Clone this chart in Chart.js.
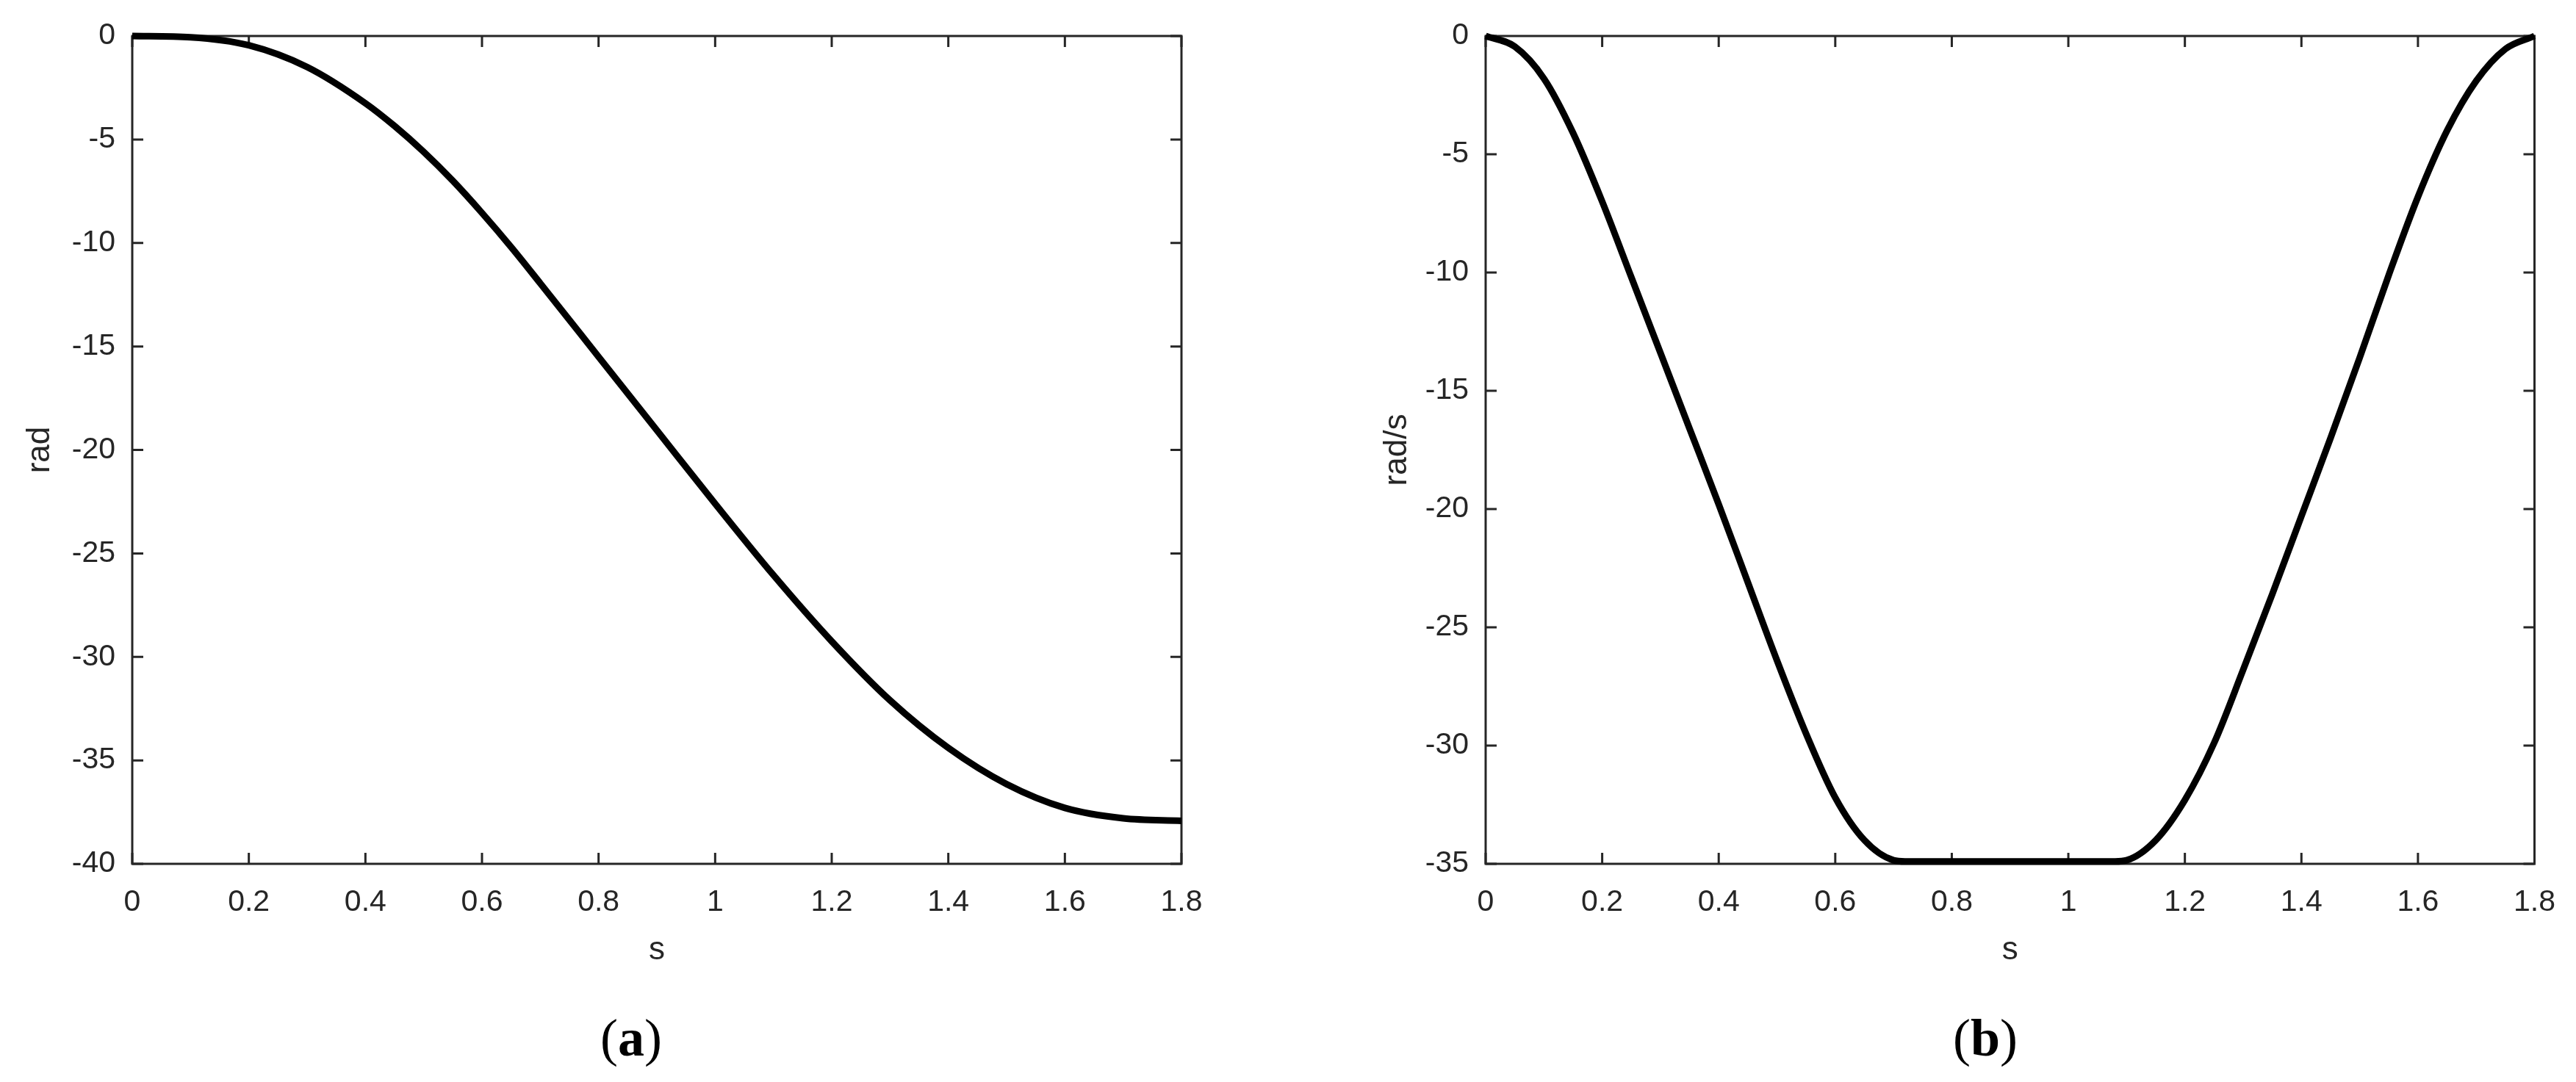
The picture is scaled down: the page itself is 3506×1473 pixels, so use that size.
<!DOCTYPE html>
<html>
<head>
<meta charset="utf-8">
<script src="https://cdn.jsdelivr.net/npm/chart.js@4.4.0/dist/chart.umd.min.js"></script>
<style>
  body{margin:0;background:#fff;}
  #wrap{position:relative;width:3506px;height:1473px;overflow:hidden;background:#fff;}
  canvas{position:absolute;top:0;}
  .cap{position:absolute;width:400px;text-align:center;font-family:"Liberation Serif","Times New Roman",serif;font-size:72px;line-height:72px;color:#000;}
</style>
</head>
<body>
<div id="wrap">
  <canvas id="pos" width="1753" height="1473" style="left:0"></canvas>
  <canvas id="vel" width="1753" height="1473" style="left:1753px"></canvas>
  <div class="cap" style="left:659px;top:1377px">(<b>a</b>)</div>
  <div class="cap" style="left:2502px;top:1377px">(<b>b</b>)</div>
</div>
<script>
// (a) angle, rad
var posTime = [0, 0.1, 0.2, 0.3, 0.4, 0.45, 0.5, 0.55, 0.6, 0.65, 0.7, 0.8, 0.9, 1.0, 1.1, 1.2, 1.3, 1.4, 1.5, 1.6, 1.7, 1.8];
var posValue = [0, -0.06, -0.45, -1.5, -3.25, -4.35, -5.6, -7.0, -8.55, -10.2, -11.95, -15.5, -19.05, -22.6, -26.05, -29.25, -32.1, -34.4, -36.15, -37.3, -37.8, -37.92];

// (b) angular velocity, rad/s
var velTime = [0, 0.05, 0.1, 0.15, 0.2, 0.25, 0.3, 0.35, 0.4, 0.45, 0.5, 0.55, 0.6, 0.65, 0.7, 0.72, 1.08, 1.1, 1.15, 1.2, 1.25, 1.3, 1.35, 1.4, 1.45, 1.5, 1.55, 1.6, 1.65, 1.7, 1.75, 1.8];
var velValue = [0, -0.45, -1.8, -4.1, -7.0, -10.2, -13.4, -16.6, -19.8, -23.1, -26.4, -29.5, -32.2, -34.0, -34.85, -34.9, -34.9, -34.85, -34.0, -32.3, -29.9, -26.8, -23.6, -20.3, -17.0, -13.6, -10.1, -6.8, -4.0, -1.9, -0.55, 0];

var timeRange = [0, 1.8];
var posRange = [-40, 0];
var velRange = [-35, 0];

var AXIS = '#262626';
var FONT = '"Liberation Sans", Arial, Helvetica, sans-serif';

// matlab style box with ticks pointing inward
var boxTicks = {
    id: 'boxTicks',
    beforeDatasetsDraw: function(chart){
        var ctx = chart.ctx;
        var a = chart.chartArea;
        var xs = chart.scales.x;
        var ys = chart.scales.y;
        var len = 15;
        ctx.save();
        ctx.strokeStyle = AXIS;
        ctx.lineWidth = 3;
        ctx.strokeRect(a.left, a.top, a.right - a.left, a.bottom - a.top);
        ctx.beginPath();
        xs.ticks.forEach(function(t){
            var px = xs.getPixelForValue(t.value);
            ctx.moveTo(px, a.bottom); ctx.lineTo(px, a.bottom - len);
            ctx.moveTo(px, a.top); ctx.lineTo(px, a.top + len);
        });
        ys.ticks.forEach(function(t){
            var py = ys.getPixelForValue(t.value);
            ctx.moveTo(a.left, py); ctx.lineTo(a.left + len, py);
            ctx.moveTo(a.right, py); ctx.lineTo(a.right - len, py);
        });
        ctx.stroke();
        ctx.restore();
    }
};

function points(xs, ys){
    return xs.map(function(x, i){ return {x: x, y: ys[i]}; });
}

function tickText(v){
    return String(Math.round(v * 10) / 10);
}

function makeChart(el, xs, ys, yRange, yTitle, padLeft, padRight, titlePad){
    return new Chart(document.getElementById(el), {
        type: 'line',
        data: {
            datasets: [{
                data: points(xs, ys),
                borderColor: '#000',
                borderWidth: 9,
                pointRadius: 0,
                fill: false,
                clip: false,
                cubicInterpolationMode: 'monotone'
            }]
        },
        options: {
            responsive: false,
            animation: false,
            devicePixelRatio: 1,
            layout: {padding: {top: 49, left: padLeft, right: padRight, bottom: 153}},
            plugins: {legend: {display: false}, tooltip: {enabled: false}},
            scales: {
                x: {
                    type: 'linear',
                    min: timeRange[0],
                    max: timeRange[1],
                    grid: {display: false, drawTicks: false},
                    border: {display: false},
                    ticks: {stepSize: 0.2, padding: 28, color: AXIS, font: {family: FONT, size: 41}, callback: tickText},
                    title: {display: true, text: 's', color: AXIS, font: {family: FONT, size: 44}, padding: {top: 0, bottom: 0}},
                    afterFit: function(s){ s.height = 144; }
                },
                y: {
                    type: 'linear',
                    min: yRange[0],
                    max: yRange[1],
                    grid: {display: false, drawTicks: false},
                    border: {display: false},
                    ticks: {stepSize: 5, padding: 23, color: AXIS, font: {family: FONT, size: 41}, callback: tickText},
                    title: {display: true, text: yTitle, color: AXIS, font: {family: FONT, size: 44}, padding: {top: titlePad, bottom: 0}},
                    afterFit: function(s){ s.width = 180; }
                }
            }
        },
        plugins: [boxTicks]
    });
}

makeChart('pos', posTime, posValue, posRange, 'rad', 0, 145, 28);
makeChart('vel', velTime, velValue, velRange, 'rad/s', 89, 55, 33);
</script>
</body>
</html>
